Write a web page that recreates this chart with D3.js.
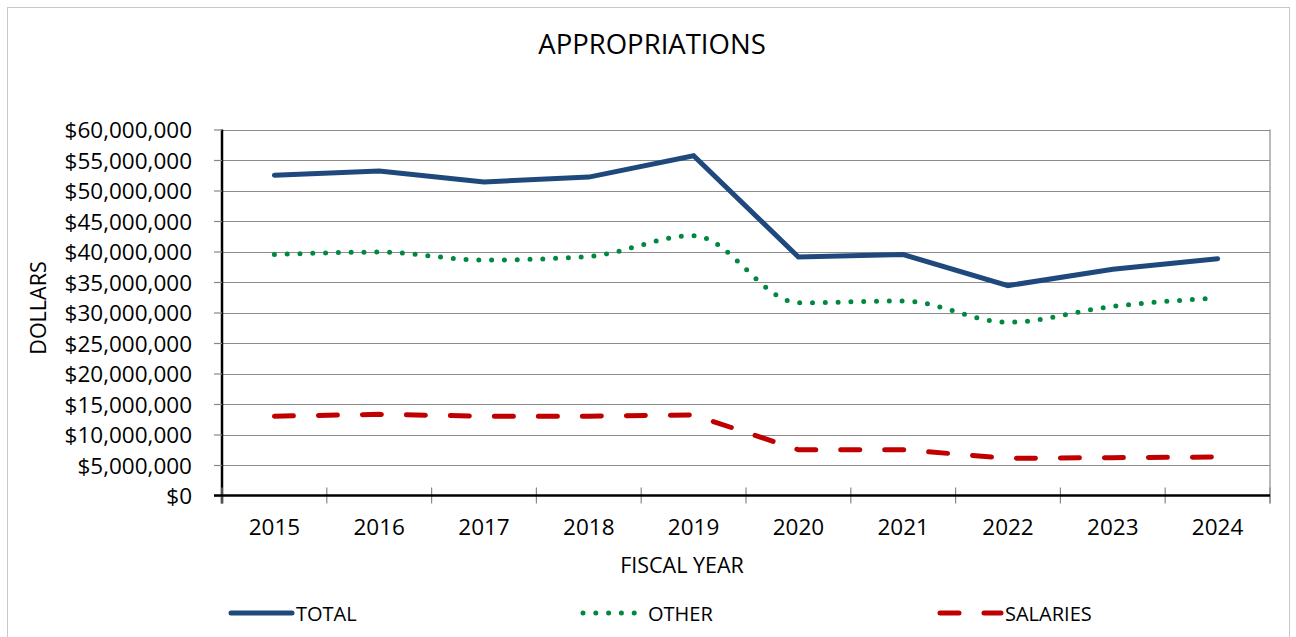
<!DOCTYPE html>
<html>
<head>
<meta charset="utf-8">
<script src="https://cdn.jsdelivr.net/npm/d3@7"></script>
<style>
  body { margin: 0; background: #fff; }
  text { font-family: "Open Sans", sans-serif; fill: #000; }
</style>
</head>
<body>
<div class="main"></div>
<script>
// chart data
var years = ["2015", "2016", "2017", "2018", "2019", "2020", "2021", "2022", "2023", "2024"];
var total = [52.5e6, 53.2e6, 51.4e6, 52.2e6, 55.7e6, 39.1e6, 39.5e6, 34.4e6, 37.1e6, 38.8e6];
var other = [39.5e6, 39.9e6, 38.6e6, 39.2e6, 42.6e6, 31.6e6, 31.9e6, 28.4e6, 31.0e6, 32.4e6];
var salaries = [13.0e6, 13.3e6, 13.0e6, 13.0e6, 13.2e6, 7.5e6, 7.5e6, 6.1e6, 6.2e6, 6.3e6];
var yTicks = [0, 5e6, 10e6, 15e6, 20e6, 25e6, 30e6, 35e6, 40e6, 45e6, 50e6, 55e6, 60e6];

function BuildGraph() {
  var fullwidth = 1296, fullheight = 637;
  var plot = { left: 222, right: 1270, top: 129.5, bottom: 495.5 };

  var svg = d3.select(".main")
    .append("svg")
    .attr("width", fullwidth)
    .attr("height", fullheight);

  // outer chart border
  svg.append("rect")
    .attr("x", 7.5).attr("y", 7.5)
    .attr("width", 1282).attr("height", 660)
    .attr("fill", "none")
    .attr("stroke", "#c8c8c8")
    .attr("stroke-width", 1);

  //scales
  var x = d3.scaleBand()
    .domain(years)
    .range([plot.left, plot.right])
    .padding(0);

  var y = d3.scaleLinear()
    .domain([0, 60e6])
    .range([plot.bottom, plot.top]);

  var fmt = function(d) { return "$" + d3.format(",")(d); };

  //gridlines
  svg.append("g")
    .selectAll("line")
    .data(yTicks.filter(function(d) { return d > 0; }))
    .join("line")
    .attr("x1", plot.left).attr("x2", plot.right)
    .attr("y1", function(d) { return Math.round(y(d)) + 0.5; })
    .attr("y2", function(d) { return Math.round(y(d)) + 0.5; })
    .attr("stroke", "#8c8c8c")
    .attr("stroke-width", 1.2);

  // right border of plot
  svg.append("line")
    .attr("x1", plot.right).attr("x2", plot.right)
    .attr("y1", plot.top).attr("y2", plot.bottom + 8)
    .attr("stroke", "#8c8c8c")
    .attr("stroke-width", 1.2);

  //y axis
  var yAxis = svg.append("g")
    .attr("transform", "translate(" + plot.left + ",0)")
    .call(d3.axisLeft(y).tickValues(yTicks).tickFormat(fmt).tickSize(8).tickPadding(22));
  yAxis.select(".domain").attr("stroke", "#000").attr("stroke-width", 2.5)
    .attr("d", "M0," + plot.top + "V" + (plot.bottom + 8));
  yAxis.selectAll(".tick line").attr("stroke", "#888").attr("stroke-width", 1.2);
  yAxis.selectAll("text")
    .style("font-family", "'Open Sans', sans-serif")
    .style("font-size", "22.5px")
    .attr("dy", "0.36em");

  //x axis labels at category centres
  var xAxis = svg.append("g")
    .attr("transform", "translate(0," + plot.bottom + ")")
    .call(d3.axisBottom(x).tickSize(0).tickPadding(24));
  xAxis.select(".domain").remove();
  xAxis.selectAll("text")
    .style("font-family", "'Open Sans', sans-serif")
    .style("font-size", "22.5px");

  // bottom axis line + cross ticks at category boundaries
  var bounds = years.map(function(d) { return x(d); }).concat([plot.right]);
  svg.append("g")
    .selectAll("line")
    .data(bounds)
    .join("line")
    .attr("x1", function(d) { return d; }).attr("x2", function(d) { return d; })
    .attr("y1", plot.bottom - 8).attr("y2", plot.bottom + 8)
    .attr("stroke", "#888")
    .attr("stroke-width", 1.2);
  svg.append("line")
    .attr("x1", plot.left - 8).attr("x2", plot.right)
    .attr("y1", plot.bottom).attr("y2", plot.bottom)
    .attr("stroke", "#000")
    .attr("stroke-width", 2.5);

  //titles
  svg.append("text")
    .attr("x", 652).attr("y", 54)
    .attr("text-anchor", "middle")
    .style("font-size", "27.5px")
    .text("APPROPRIATIONS");

  svg.append("text")
    .attr("x", 682).attr("y", 573)
    .attr("text-anchor", "middle")
    .style("font-size", "21.5px")
    .text("FISCAL YEAR");

  svg.append("text")
    .attr("transform", "translate(46,308) rotate(-90)")
    .attr("text-anchor", "middle")
    .style("font-size", "21.5px")
    .text("DOLLARS");

  //series (OTHER is a smoothed line in the original)
  var series = [
    { name: "TOTAL", values: total, color: "#1F497D", dash: null, curve: d3.curveLinear, legendX: 229 },
    { name: "OTHER", values: other, color: "#00893E", dash: "0 12.8", curve: d3.curveMonotoneX, legendX: 581 },
    { name: "SALARIES", values: salaries, color: "#C00000", dash: "19 25", curve: d3.curveLinear, legendX: 938 }
  ];

  var cx = function(i) { return x(years[i]) + x.bandwidth() / 2; };

  series.forEach(function(s) {
    svg.append("path")
      .datum(s.values)
      .attr("fill", "none")
      .attr("stroke", s.color)
      .attr("stroke-width", 5)
      .attr("stroke-linecap", "round")
      .attr("stroke-linejoin", "miter")
      .attr("stroke-dasharray", s.dash)
      .attr("d", d3.line()
        .x(function(d, i) { return cx(i); })
        .y(function(d) { return y(d); })
        .curve(s.curve));
  });

  //legend
  var ly = 613;
  var legend = svg.append("g");
  series.forEach(function(s) {
    legend.append("line")
      .attr("x1", s.legendX + 2).attr("x2", s.legendX + 63)
      .attr("y1", ly).attr("y2", ly)
      .attr("stroke", s.color)
      .attr("stroke-width", 5)
      .attr("stroke-linecap", "round")
      .attr("stroke-dasharray", s.dash);
    legend.append("text")
      .attr("x", s.legendX + 67)
      .attr("y", ly + 7.5)
      .style("font-size", "20px")
      .text(s.name);
  });
}

BuildGraph();
</script>
</body>
</html>
